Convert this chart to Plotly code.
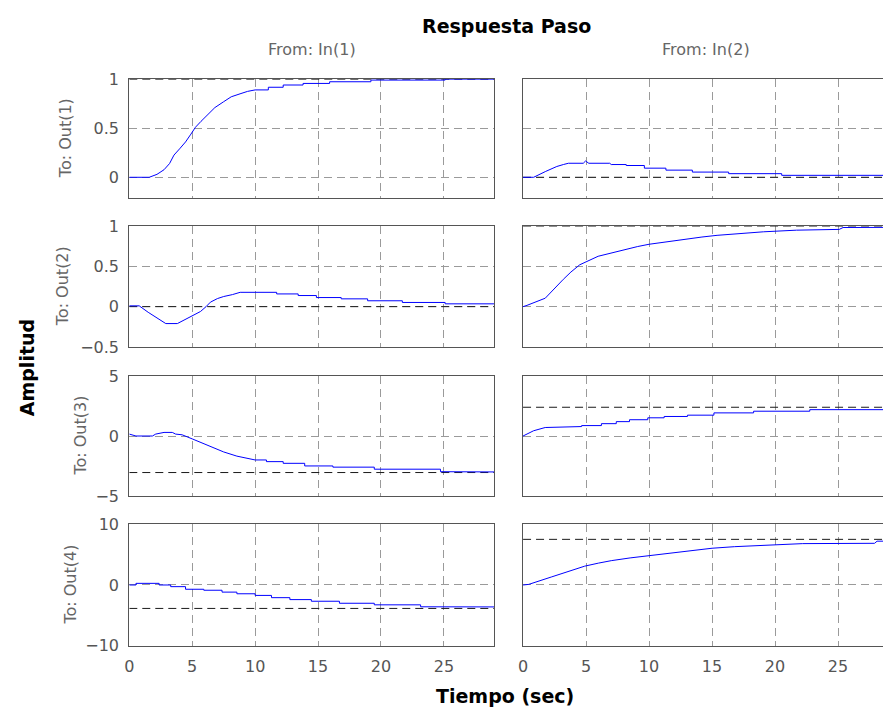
import plotly.graph_objects as go

# ---------------- data ----------------
t_11 = [0, 1.58, 2.2, 2.76, 3.2, 3.55, 4.0, 4.47, 4.9, 5.26, 5.7, 6.18, 6.8, 7.5, 8.1, 8.8, 9.4, 10.0,
        11.05, 11.05, 12.23, 12.23, 13.81, 13.81, 15.92, 15.92, 19.2, 19.2, 25.1, 25.1, 29]
y_11 = [0, 0, 0.03, 0.077, 0.14, 0.226, 0.29, 0.36, 0.44, 0.51, 0.57, 0.63, 0.71, 0.77, 0.82, 0.85, 0.875, 0.89,
        0.89, 0.917, 0.917, 0.94, 0.94, 0.956, 0.956, 0.973, 0.973, 0.99, 0.99, 1.0, 1.0]

t_12 = [0, 0.84, 1.8, 2.68, 3.2, 3.6, 4.78, 4.96, 5.22, 6.88, 7.0, 8.19, 8.19, 9.63, 9.63,
        11.34, 11.34, 13.44, 13.44, 16.32, 16.32, 20.53, 20.53, 29]
y_12 = [0, 0, 0.06, 0.11, 0.13, 0.143, 0.143, 0.166, 0.143, 0.143, 0.13, 0.13, 0.12, 0.12, 0.093,
        0.093, 0.073, 0.073, 0.053, 0.053, 0.037, 0.037, 0.02, 0.02]

t_21 = [0, 0.79, 1.5, 2.24, 2.9, 3.82, 4.3, 4.87, 5.66, 6.1, 6.45, 7.0, 7.5, 8.2, 8.81,
        11.71, 11.71, 13.42, 13.42, 14.87, 14.87, 16.84, 16.84, 18.94, 18.94, 21.7, 21.7, 25.1, 25.1, 29]
y_21 = [0.01, 0.01, -0.07, -0.14, -0.21, -0.21, -0.17, -0.13, -0.06, 0.0, 0.056, 0.1, 0.126, 0.15, 0.178,
        0.178, 0.158, 0.158, 0.138, 0.138, 0.113, 0.113, 0.097, 0.097, 0.073, 0.073, 0.052, 0.052, 0.035, 0.035]

t_22 = [0, 0.31, 1.76, 2.5, 3.2, 3.8, 4.5, 5.96, 6.8, 7.4, 8.45, 9.1, 10.0, 10.9, 11.8, 13.0, 14.2,
        15.4, 17.3, 19.1, 21.7, 25.1, 25.4, 29]
y_22 = [0, 0.016, 0.105, 0.23, 0.34, 0.43, 0.52, 0.626, 0.66, 0.683, 0.72, 0.747, 0.775, 0.796, 0.815, 0.837, 0.865,
        0.886, 0.91, 0.93, 0.95, 0.96, 0.983, 0.985]

t_31 = [0, 0.53, 1.84, 2.1, 2.76, 3.42, 3.68, 4.2, 5.0, 6.18, 7.5, 8.55, 10.0,
        10.9, 10.9, 12.23, 12.23, 13.94, 13.94, 16.18, 16.18, 19.47, 19.47, 24.73, 24.73, 29]
y_31 = [0.16, 0, 0, 0.16, 0.3, 0.3, 0.16, 0.1, -0.24, -0.78, -1.33, -1.68, -2.0,
        -2.0, -2.14, -2.14, -2.28, -2.28, -2.5, -2.5, -2.6, -2.6, -2.77, -2.77, -2.98, -3.0]

t_32 = [0, 0.84, 1.76, 4.65, 4.65, 6.22, 6.22, 7.4, 7.4, 8.45, 8.45, 9.9, 9.9, 11.2, 11.2,
        13.05, 13.05, 15.15, 15.15, 18.3, 18.3, 22.76, 22.76, 29]
y_32 = [0, 0.44, 0.71, 0.79, 0.87, 0.87, 1.03, 1.03, 1.2, 1.2, 1.36, 1.36, 1.52, 1.52, 1.63,
        1.63, 1.74, 1.74, 1.93, 1.93, 2.07, 2.07, 2.2, 2.2]

t_41 = [0, 0.53, 0.53, 2.37, 2.37, 3.29, 3.29, 4.47, 4.47, 5.92, 5.92, 7.37, 7.37, 8.55, 8.55, 10.0, 10.0,
        11.3, 11.3, 12.76, 12.76, 14.47, 14.47, 16.7, 16.7, 19.47, 19.47, 23.15, 23.15, 29]
y_41 = [0, 0, 0.27, 0.27, 0, 0, -0.27, -0.27, -0.7, -0.7, -0.86, -0.86, -1.17, -1.17, -1.44, -1.44, -1.71,
        -1.71, -2.08, -2.08, -2.4, -2.4, -2.67, -2.67, -3.0, -3.0, -3.26, -3.26, -3.58, -3.6]

t_42 = [0, 0.45, 2.28, 3.6, 4.9, 6.0, 7.0, 8.5, 9.9, 11.2, 12.65, 13.8, 15.0, 16.8, 18.7, 20.5, 22.2, 27.9, 28.1, 29]
y_42 = [0, 0.1, 1.34, 2.25, 3.1, 3.6, 4.0, 4.45, 4.8, 5.15, 5.5, 5.8, 6.04, 6.3, 6.5, 6.65, 6.8, 6.85, 7.2, 7.2]

# steady-state (final) values, row-major
steady = [1.0, 0.0, 0.0, 1.0, -3.05, 2.4, -3.85, 7.5]

x_ticks = [0, 5, 10, 15, 20, 25]
y_ticks = [[0, 0.5, 1], [-0.5, 0, 0.5, 1], [-5, 0, 5], [-10, 0, 10]]
y_ranges = [[-0.21, 1.0], [-0.5, 1.0], [-5, 5], [-10, 10]]
row_labels = ["To: Out(1)", "To: Out(2)", "To: Out(3)", "To: Out(4)"]
col_labels = ["From: In(1)", "From: In(2)"]

series_t = [t_11, t_12, t_21, t_22, t_31, t_32, t_41, t_42]
series_y = [y_11, y_12, y_21, y_22, y_31, y_32, y_41, y_42]

# ---------------- layout geometry (pixels) ----------------
W, H = 883, 725
col_px = [(125, 492), (521, 883)]
x_ranges = [[0, 29], [0, (883 - 521) / 12.67]]
row_px = [(72, 194), (223, 347), (377, 500), (529, 654)]

FONT = "DejaVu Sans"
GRID = "#9a9a9a"
AXLINE = "#555555"
TICKC = "#555555"

fig = go.Figure()
layout = dict(
    width=W, height=H,
    margin=dict(l=0, r=0, t=0, b=0),
    paper_bgcolor="white", plot_bgcolor="white",
    showlegend=False,
    font=dict(family=FONT, size=16, color=TICKC),
)

annotations = []
for r in range(4):
    for c in range(2):
        i = r * 2 + c + 1
        xa = "xaxis" if i == 1 else f"xaxis{i}"
        ya = "yaxis" if i == 1 else f"yaxis{i}"
        xr = "x" if i == 1 else f"x{i}"
        yr = "y" if i == 1 else f"y{i}"
        x0, x1 = col_px[c]
        y0, y1 = row_px[r]
        layout[xa] = dict(
            domain=[x0 / W, x1 / W], range=x_ranges[c], anchor=yr,
            tickvals=x_ticks, showticklabels=(r == 3), ticks="",
            showgrid=True, gridcolor=GRID, griddash="8px,5px", gridwidth=1,
            zeroline=False, showline=True, linecolor=AXLINE, linewidth=1.2, mirror=True,
            tickfont=dict(family=FONT, size=16, color=TICKC), ticklabelstandoff=6,
            fixedrange=True,
        )
        layout[ya] = dict(
            domain=[1 - y1 / H, 1 - y0 / H], range=y_ranges[r], anchor=xr,
            tickvals=y_ticks[r], showticklabels=(c == 0), ticks="",
            showgrid=True, gridcolor=GRID, griddash="8px,5px", gridwidth=1,
            zeroline=False, showline=True, linecolor=AXLINE, linewidth=1.2,
            mirror=(c == 0),
            tickfont=dict(family=FONT, size=16, color=TICKC), ticklabelstandoff=6,
            fixedrange=True,
        )
        fig.add_trace(go.Scatter(
            x=[0, 29], y=[steady[i - 1]] * 2, xaxis=xr, yaxis=yr, mode="lines",
            line=dict(color="#1a1a1a", width=1, dash="8px,5px"), hoverinfo="skip"))
        fig.add_trace(go.Scatter(
            x=series_t[i - 1], y=series_y[i - 1], xaxis=xr, yaxis=yr, mode="lines",
            line=dict(color="#0000ff", width=1), hoverinfo="skip"))

label_x = [61, 58, 75, 66]
for r in range(4):
    y0, y1 = row_px[r]
    annotations.append(dict(
        text=row_labels[r], x=label_x[r] / W, y=1 - (y0 + y1) / 2 / H,
        xref="paper", yref="paper", showarrow=False, textangle=-90,
        xanchor="center", yanchor="middle",
        font=dict(family=FONT, size=16, color="#666666")))
col_center = [(125 + 492) / 2, (521 + 888) / 2]
for c in range(2):
    annotations.append(dict(
        text=col_labels[c], x=col_center[c] / W, y=1 - 42 / H,
        xref="paper", yref="paper", showarrow=False,
        xanchor="center", yanchor="middle",
        font=dict(family=FONT, size=16, color="#666666")))
annotations.append(dict(text="<b>Respuesta Paso</b>", x=504 / W, y=1 - 17 / H,
                        xref="paper", yref="paper", showarrow=False,
                        xanchor="center", yanchor="middle",
                        font=dict(family=FONT, size=19, color="black")))
annotations.append(dict(text="<b>Tiempo (sec)</b>", x=503 / W, y=1 - 706 / H,
                        xref="paper", yref="paper", showarrow=False,
                        xanchor="center", yanchor="middle",
                        font=dict(family=FONT, size=19, color="black")))
annotations.append(dict(text="<b>Amplitud</b>", x=22 / W, y=1 - 368 / H,
                        xref="paper", yref="paper", showarrow=False, textangle=-90,
                        xanchor="center", yanchor="middle",
                        font=dict(family=FONT, size=19, color="black")))
layout["annotations"] = annotations

fig.update_layout(**layout)
fig.write_html("out.html", config={"displayModeBar": False})
